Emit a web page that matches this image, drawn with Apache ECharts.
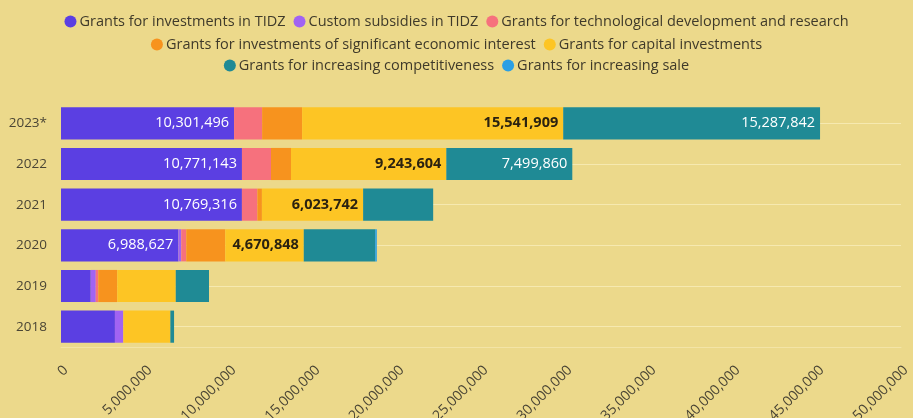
<!DOCTYPE html>
<html>
<head>
<meta charset="utf-8">
<script src="https://cdn.jsdelivr.net/npm/echarts@6/dist/echarts.min.js"></script>
<style>
  html, body { margin: 0; padding: 0; background: #ecd98b; }
  #chart { width: 913px; height: 418px; }
</style>
</head>
<body>
<div id="chart"></div>
<script>
// Years shown top to bottom
const years = ['2023*', '2022', '2021', '2020', '2019', '2018'];

// Amounts per grant type, one value per year (same order as years)
const investmentsTIDZ   = [10301496, 10771143, 10769316, 6988627, 1770000, 3210000];
const customSubsidies   = [0, 0, 0, 170000, 300000, 500000];
const techDevelopment   = [1670000, 1730000, 920000, 300000, 150000, 0];
const significantInvest = [2380000, 1190000, 270000, 2320000, 1130000, 0];
const capitalInvest     = [15541909, 9243604, 6023742, 4670848, 3480000, 2800000];
const competitiveness   = [15287842, 7499860, 4170000, 4250000, 1980000, 220000];
const increasingSale    = [0, 0, 0, 100000, 0, 0];

// Value axis ticks
const xTicks = [0, 5000000, 10000000, 15000000, 20000000, 25000000, 30000000, 35000000, 40000000, 45000000, 50000000];

const seriesDefs = [
  { name: 'Grants for investments in TIDZ', data: investmentsTIDZ, color: '#5b3fe2', labelColor: '#ffffff', bold: false },
  { name: 'Custom subsidies in TIDZ', data: customSubsidies, color: '#a163f2', labelColor: '#ffffff', bold: false },
  { name: 'Grants for technological development and research', data: techDevelopment, color: '#f6717d', labelColor: '#ffffff', bold: false },
  { name: 'Grants for investments of significant economic interest', data: significantInvest, color: '#f7931e', labelColor: '#2b2b2b', bold: true },
  { name: 'Grants for capital investments', data: capitalInvest, color: '#fdc524', labelColor: '#2b2210', bold: true },
  { name: 'Grants for increasing competitiveness', data: competitiveness, color: '#1f8a95', labelColor: '#ffffff', bold: false },
  { name: 'Grants for increasing sale', data: increasingSale, color: '#2b9fe4', labelColor: '#ffffff', bold: false }
];

const fmt = v => v.toLocaleString('en-US');
const FONT = '"Open Sans"';

const series = seriesDefs.map(d => ({
  name: d.name,
  type: 'bar',
  stack: 'total',
  barCategoryGap: '21%',
  itemStyle: { color: d.color },
  label: {
    show: true,
    position: 'insideRight',
    distance: 5,
    color: d.labelColor,
    fontFamily: FONT,
    fontSize: 14.5,
    fontWeight: d.bold ? 'bold' : 'normal',
    formatter: p => (p.value >= 4500000 ? fmt(p.value) : '')
  },
  emphasis: { disabled: true },
  data: d.data
}));

const legendRows = [
  seriesDefs.slice(0, 3).map(d => d.name),
  seriesDefs.slice(3, 5).map(d => d.name),
  seriesDefs.slice(5, 7).map(d => d.name)
];
const legendTops = [9, 32, 53];

const legends = legendRows.map((row, i) => ({
  data: row,
  top: legendTops[i],
  left: 'center',
  icon: 'circle',
  itemWidth: 12,
  itemHeight: 12,
  itemGap: 8,
  selectedMode: false,
  textStyle: { fontFamily: FONT, fontSize: 14.5, color: '#3f3a2a', padding: [0, 0, 0, -2] }
}));

const chart = echarts.init(document.getElementById('chart'), null, { renderer: 'canvas' });
chart.setOption({
  backgroundColor: '#ecd98b',
  animation: false,
  legend: legends,
  grid: { left: 61, right: 12, top: 103, bottom: 71, containLabel: false, outerBoundsMode: 'none' },
  xAxis: {
    type: 'value',
    min: xTicks[0],
    max: xTicks[xTicks.length - 1],
    interval: xTicks[1] - xTicks[0],
    splitLine: { show: false },
    axisLine: { show: true, lineStyle: { color: '#f3e4a6' } },
    axisTick: { show: false },
    axisLabel: {
      rotate: 45,
      margin: 16,
      verticalAlign: 'top',
      color: '#4a4535',
      fontFamily: FONT,
      fontSize: 14,
      formatter: v => fmt(v)
    }
  },
  yAxis: [
    {
      type: 'category',
      data: years,
      inverse: true,
      axisLine: { show: false },
      axisTick: { show: false },
      splitLine: { show: false },
      axisLabel: { margin: 14, color: '#4a4535', fontFamily: FONT, fontSize: 13.5 }
    },
    {
      // helper axis: row guide lines through the middle of each category band
      type: 'value',
      min: 0,
      max: years.length * 2,
      interval: 1,
      position: 'left',
      axisLine: { show: false },
      axisTick: { show: false },
      axisLabel: { show: false },
      splitLine: { show: true, lineStyle: { color: ['rgba(0,0,0,0)', '#f6e9b0'], width: 1 } }
    }
  ],
  series: series
});
</script>
</body>
</html>
